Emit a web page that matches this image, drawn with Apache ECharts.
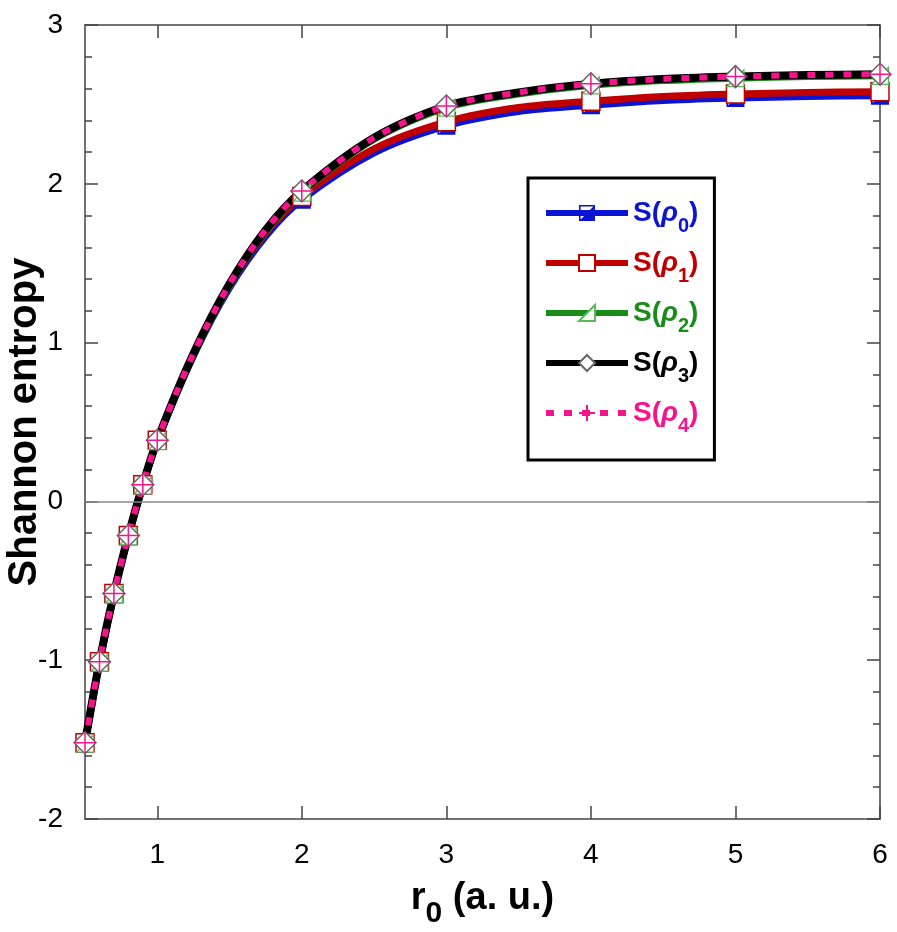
<!DOCTYPE html>
<html>
<head>
    <meta charset="utf-8">
    <title>Shannon entropy</title>
    <script src="https://cdn.jsdelivr.net/npm/echarts@6/dist/echarts.min.js"></script>
    <style>
        html, body { margin: 0; padding: 0; background: #fff; }
    </style>
</head>
<body>
    <div id="main" style="width: 897px;height:932px;"></div>
    <script type="text/javascript">
        var myChart = echarts.init(document.getElementById('main'));

        // r0 values
        var r0 = [0.5, 0.6, 0.7, 0.8, 0.9, 1, 1.25, 1.5, 1.75, 2, 2.5, 3, 3.5, 4, 4.5, 5, 5.5, 6];
        // points that carry a marker
        var markerR0 = [0.5, 0.6, 0.7, 0.8, 0.9, 1, 2, 3, 4, 5, 6];

        var s0 = [-1.525, -1.015, -0.585, -0.22, 0.1, 0.38, 0.915, 1.345, 1.67, 1.9, 2.195, 2.365, 2.455, 2.495, 2.525, 2.54, 2.55, 2.555];
        var s1 = [-1.52, -1.01, -0.58, -0.215, 0.105, 0.385, 0.925, 1.36, 1.69, 1.92, 2.22, 2.39, 2.48, 2.52, 2.55, 2.565, 2.575, 2.58];
        var s2 = [-1.525, -1.015, -0.585, -0.22, 0.1, 0.38, 0.92, 1.36, 1.7, 1.945, 2.28, 2.48, 2.565, 2.62, 2.65, 2.665, 2.675, 2.68];
        var s3 = [-1.52, -1.01, -0.58, -0.215, 0.105, 0.385, 0.93, 1.37, 1.71, 1.955, 2.29, 2.49, 2.575, 2.63, 2.66, 2.675, 2.685, 2.69];
        var s4 = [-1.52, -1.01, -0.58, -0.215, 0.105, 0.385, 0.93, 1.37, 1.71, 1.955, 2.29, 2.49, 2.575, 2.63, 2.66, 2.675, 2.685, 2.69];

        var xTicks = [1, 2, 3, 4, 5, 6];

        var names = ['S0', 'S1', 'S2', 'S3', 'S4'];
        var colors = ['#0a14d2', '#c00000', '#1a8c1a', '#000000', '#f5148c'];

        var font = 'Liberation Sans, Arial, sans-serif';

        function pairs(ys) {
            return r0.map(function (x, i) { return [x, ys[i]]; });
        }
        function markSize(size) {
            return function (v) { return markerR0.indexOf(v[0]) >= 0 ? size : 0; };
        }

        var halfSquare = 'path://M0,0H10V10H0Z M1,1V9H9V1Z M9,1V9H1Z';
        var triangle = 'path://M10,0V10H0Z';
        var cross = 'path://M5,0V10M0,5H10';

        var axisLine = { show: true, onZero: false, lineStyle: { color: '#444', width: 1.5 } };
        var tickStyle = { color: '#444', width: 1.5 };

        myChart.setOption({
            animation: false,
            grid: { left: 85, right: 17, top: 25, bottom: 113, outerBoundsMode: 'none', containLabel: false },
            legend: {
                orient: 'vertical',
                left: 528,
                top: 178,
                padding: [21, 16, 24, 15],
                borderColor: '#000',
                borderWidth: 3,
                itemWidth: 82,
                itemHeight: 20,
                itemGap: 13,
                lineStyle: { width: 6 },
                data: names.map(function (n, i) {
                    return { name: n, textStyle: { color: colors[i] } };
                }),
                formatter: function (name) {
                    return '{s|S(}{p|ρ}{sub|' + name.slice(1) + '}{s|)}';
                },
                textStyle: {
                    fontFamily: font,
                    rich: {
                        s: { fontSize: 28, fontWeight: 'bold', lineHeight: 46, fontFamily: font },
                        p: { fontSize: 28, fontWeight: 'bold', fontStyle: 'italic', lineHeight: 46, fontFamily: font },
                        sub: { fontSize: 20, fontWeight: 'bold', lineHeight: 20, verticalAlign: 'bottom', fontFamily: font }
                    }
                }
            },
            xAxis: [{
                type: 'value',
                min: 0.5,
                max: 6,
                name: '{r|r}{sub|0}{t| (a. u.)}',
                nameLocation: 'middle',
                nameGap: 50,
                nameMoveOverlap: false,
                nameTextStyle: {
                    rich: {
                        r: { fontSize: 38, fontWeight: 'bold', lineHeight: 60, fontFamily: font, color: '#000' },
                        t: { fontSize: 38, fontWeight: 'bold', lineHeight: 60, fontFamily: font, color: '#000' },
                        sub: { fontSize: 30, fontWeight: 'bold', lineHeight: 30, verticalAlign: 'bottom', fontFamily: font, color: '#000' }
                    }
                },
                axisLine: axisLine,
                axisTick: { inside: true, length: 13, customValues: xTicks, lineStyle: tickStyle },
                axisLabel: { customValues: xTicks, margin: 22, fontSize: 28, color: '#000', fontFamily: font },
                splitLine: { show: false }
            }, {
                type: 'value',
                position: 'top',
                min: 0.5,
                max: 6,
                axisLine: axisLine,
                axisTick: { inside: true, length: 13, customValues: xTicks, lineStyle: tickStyle },
                axisLabel: { show: false },
                splitLine: { show: false }
            }],
            yAxis: [{
                type: 'value',
                min: -2,
                max: 3,
                interval: 1,
                name: 'Shannon entropy',
                nameLocation: 'middle',
                nameRotate: 90,
                nameGap: 40,
                nameMoveOverlap: false,
                nameTextStyle: { fontSize: 40, fontWeight: 'bold', color: '#000', fontFamily: font },
                axisLine: axisLine,
                axisTick: { inside: true, length: 13, lineStyle: tickStyle },
                minorTick: { show: true, splitNumber: 5, length: 7, lineStyle: tickStyle },
                axisLabel: { margin: 22, fontSize: 28, color: '#000', fontFamily: font },
                splitLine: { show: false }
            }, {
                type: 'value',
                position: 'right',
                min: -2,
                max: 3,
                interval: 1,
                axisLine: axisLine,
                axisTick: { inside: true, length: 13, lineStyle: tickStyle },
                minorTick: { show: true, splitNumber: 5, length: 7, lineStyle: tickStyle },
                axisLabel: { show: false },
                splitLine: { show: false }
            }],
            series: [{
                name: 'S0',
                type: 'line',
                data: pairs(s0),
                smooth: 0.3,
                symbol: halfSquare,
                symbolSize: markSize(18),
                lineStyle: { color: colors[0], width: 7 },
                itemStyle: { color: colors[0], borderWidth: 0 },
                markLine: {
                    silent: true,
                    symbol: 'none',
                    label: { show: false },
                    lineStyle: { color: '#888', width: 1.5, type: 'solid' },
                    data: [{ yAxis: 0 }]
                }
            }, {
                name: 'S1',
                type: 'line',
                data: pairs(s1),
                smooth: 0.3,
                symbol: 'rect',
                symbolSize: markSize(18),
                lineStyle: { color: colors[1], width: 7 },
                itemStyle: { color: '#fff', borderColor: colors[1], borderWidth: 1.5 }
            }, {
                name: 'S2',
                type: 'line',
                data: pairs(s2),
                smooth: 0.3,
                symbol: triangle,
                symbolSize: markSize(17),
                lineStyle: { color: colors[2], width: 7 },
                itemStyle: { color: '#fff', borderColor: '#5cb85c', borderWidth: 1.2 }
            }, {
                name: 'S3',
                type: 'line',
                data: pairs(s3),
                smooth: 0.3,
                symbol: 'diamond',
                symbolSize: markSize(22),
                lineStyle: { color: colors[3], width: 8 },
                itemStyle: { color: '#fff', borderColor: '#666', borderWidth: 1.5 }
            }, {
                name: 'S4',
                type: 'line',
                data: pairs(s4),
                smooth: 0.3,
                symbol: cross,
                symbolSize: markSize(22),
                lineStyle: { color: colors[4], width: 6, type: [8, 10] },
                itemStyle: { color: 'rgba(0,0,0,0)', borderColor: colors[4], borderWidth: 1.5 }
            }]
        });
    </script>
</body>
</html>
